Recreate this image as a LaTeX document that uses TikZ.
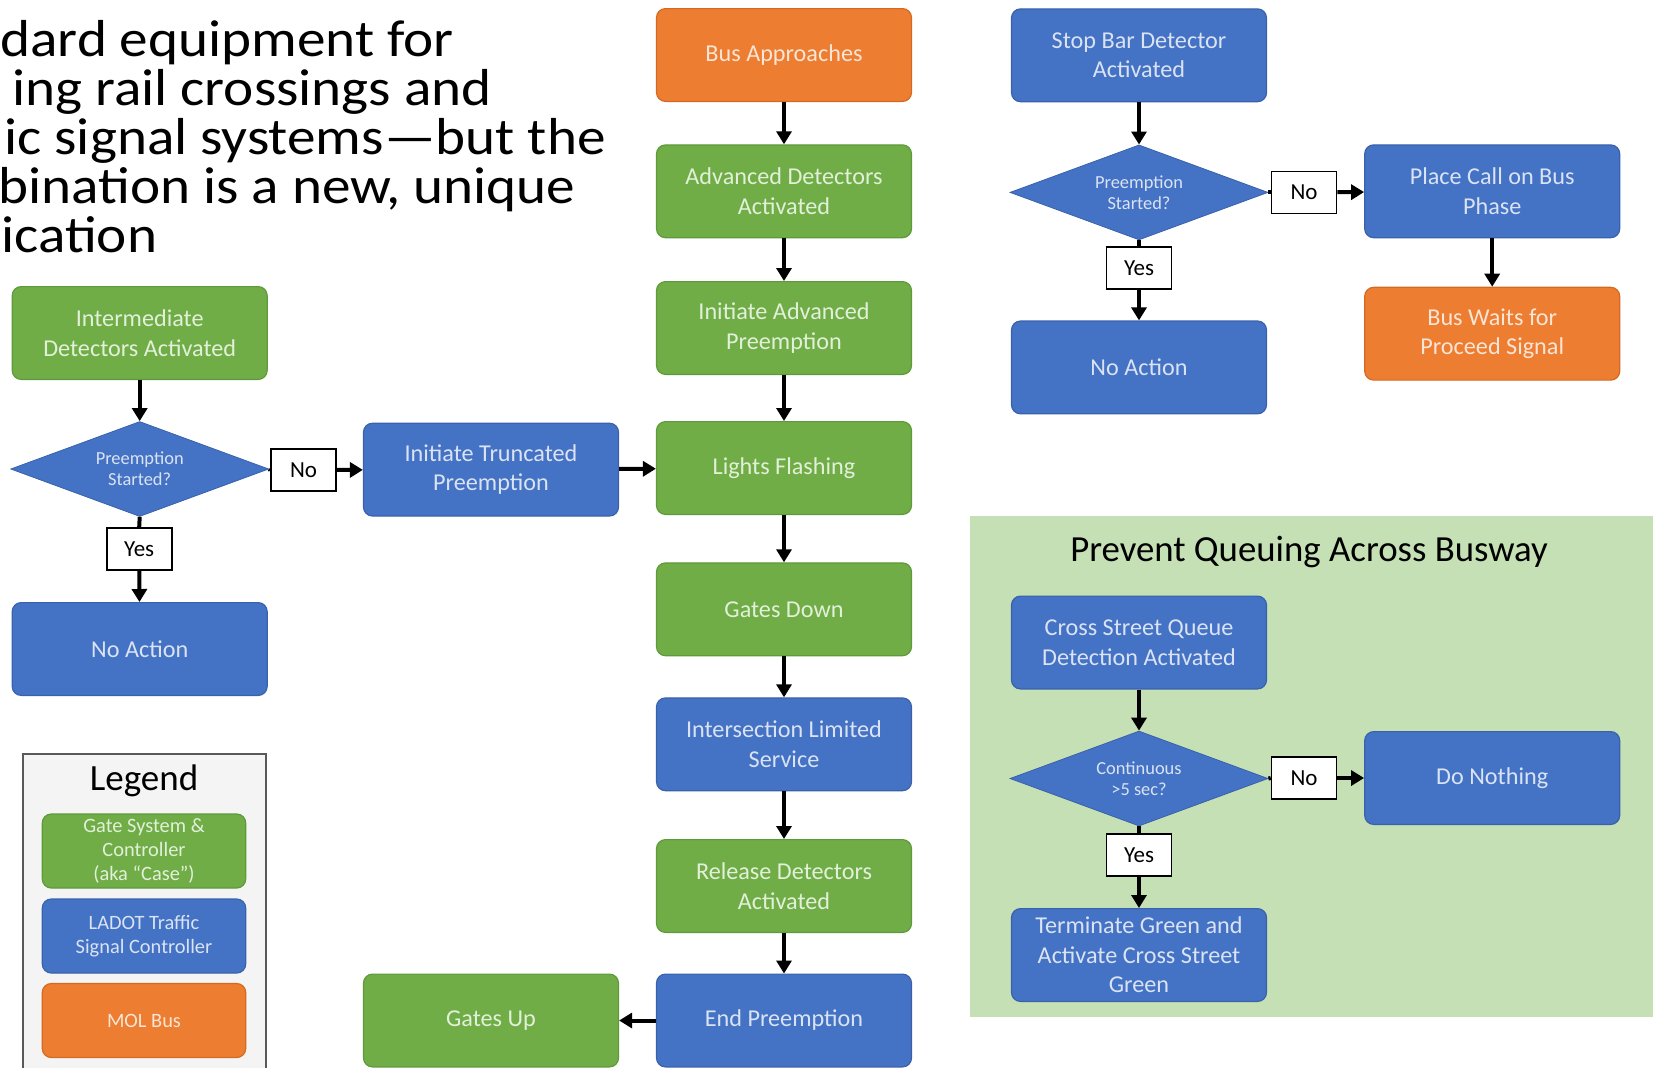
\documentclass[tikz,border=0pt]{standalone}
\usepackage{fontspec}
\setmainfont{Carlito}
\newfontfamily\headfont[FakeStretch=1.1]{Carlito}
\usetikzlibrary{shapes.geometric,arrows.meta}
\definecolor{gatefill}{HTML}{70AD47}
\definecolor{gateline}{HTML}{5E9A3A}
\definecolor{gatetext}{HTML}{E2F0D9}
\definecolor{ladotfill}{HTML}{4472C4}
\definecolor{ladotline}{HTML}{3A62AC}
\definecolor{ladottext}{HTML}{DAE3F3}
\definecolor{molfill}{HTML}{ED7D31}
\definecolor{molline}{HTML}{D46A22}
\definecolor{moltext}{HTML}{FBE5D6}
\definecolor{panelfill}{HTML}{C5E0B4}
\definecolor{legendfill}{HTML}{F4F4F4}
\definecolor{legendline}{HTML}{595959}
\tikzset{
  flow/.style={rounded corners=4.5pt, minimum width=127.5pt, minimum height=46.4pt,
    inner sep=2pt, align=center, line width=0.6pt,
    font=\fontsize{12.1pt}{14.8pt}\selectfont},
  gate/.style={flow, fill=gatefill, draw=gateline, text=gatetext},
  ladot/.style={flow, fill=ladotfill, draw=ladotline, text=ladottext},
  mol/.style={flow, fill=molfill, draw=molline, text=moltext},
  query/.style={diamond, aspect=2.7, minimum width=129pt, minimum height=47.5pt,
    inner sep=0pt, fill=ladotfill, draw=ladotline, text=ladottext, align=center,
    font=\fontsize{9.2pt}{10.5pt}\selectfont},
  answer/.style={draw=black, fill=white, line width=0.8pt, minimum width=32.5pt,
    minimum height=21pt, inner sep=0pt, font=\fontsize{11.5pt}{13pt}\selectfont},
  key/.style={rounded corners=4.5pt, minimum width=101.7pt, minimum height=37pt,
    inner sep=1pt, align=center, line width=0.6pt,
    font=\fontsize{10.2pt}{12.1pt}\selectfont},
  headline/.style={anchor=base west, inner sep=0pt, text height=18pt, text depth=5.5pt,
    font=\headfont\fontsize{26pt}{24.5pt}\selectfont},
  arrow/.style={-{Triangle[length=6.5pt,width=7.5pt]}, line width=2pt},
  link/.style={line width=2pt},
}
\begin{document}
\begin{tikzpicture}[x=0.5pt,y=-0.5pt]
\useasboundingbox (0,0) rectangle (1653,1067);
% heading text, cut at the left edge
\foreach \txt/\xs [count=\i] in {{dard equipment for}/0, {ing rail crossings and}/12,
    {ic signal systems—but the}/4, {bination is a new, unique}/-2, {ication}/1}
  \node[headline] (head\i) at (\xs,{56+49*(\i-1)}) {\txt};
% busway panel
\fill[panelfill] (970,515.5) rectangle (1653,1017.3);
\node[font=\fontsize{18.4pt}{22pt}\selectfont] (paneltitle) at (1309,552) {Prevent Queuing Across Busway};
% legend
\draw[legendline, fill=legendfill, line width=1pt] (23,754) rectangle (266,1085);
\node[font=\fontsize{18.5pt}{22pt}\selectfont] (legendtitle) at (144,781) {Legend};
\node[key, fill=gatefill, draw=gateline, text=gatetext] (keygate) at (144,851) {Gate System \&\\Controller\\(aka “Case”)};
\node[key, fill=ladotfill, draw=ladotline, text=ladottext] (keyladot) at (144,936) {LADOT Traffic\\Signal Controller};
\node[key, fill=molfill, draw=molline, text=moltext] (keymol) at (144,1020.5) {MOL Bus};

% main column
\node[mol] (busapp) at (784,55) {Bus Approaches};
\node[gate] (advdet) at (784,191.3) {Advanced Detectors\\Activated};
\node[gate] (initadv) at (784,328) {Initiate Advanced\\Preemption};
\node[gate] (lights) at (784,468) {Lights Flashing};
\node[gate] (gatesdown) at (784,609.3) {Gates Down};
\node[ladot] (limited) at (784,744.3) {Intersection Limited\\Service};
\node[gate] (reldet) at (784,886) {Release Detectors\\Activated};
\node[ladot] (endpre) at (784,1020.5) {End Preemption};
\node[gate] (gatesup) at (491,1020.5) {Gates Up};
\node[ladot] (truncated) at (491,469.6) {Initiate Truncated\\Preemption};

% intermediate detectors
\node[gate] (interdet) at (139.7,333) {Intermediate\\Detectors Activated};
\node[query] (started1) at (139.7,469) {Preemption\\Started?};
\node[answer] (no1) at (303.6,470) {No};
\node[answer] (yes1) at (139.2,549) {Yes};
\node[ladot] (noact1) at (139.7,649) {No Action};

% stop bar detector
\node[ladot] (stopbar) at (1139,55.3) {Stop Bar Detector\\Activated};
\node[query] (started2) at (1139,192.4) {Preemption\\Started?};
\node[answer] (no2) at (1304,192.4) {No};
\node[ladot] (buscall) at (1492.2,191.3) {Place Call on Bus\\Phase};
\node[mol] (buswait) at (1492.2,333.7) {Bus Waits for\\Proceed Signal};
\node[answer] (yes2) at (1139,267.8) {Yes};
\node[ladot] (noact2) at (1139,367.4) {No Action};

% cross street queue
\node[ladot] (queue) at (1139,642.5) {Cross Street Queue\\Detection Activated};
\node[query] (longer) at (1139,778.5) {Continuous\\>5 sec?};
\node[answer] (no3) at (1304,778) {No};
\node[ladot] (nothing) at (1492.2,778) {Do Nothing};
\node[answer] (yes3) at (1139,855) {Yes};
\node[ladot] (terminate) at (1139,955) {Terminate Green and\\Activate Cross Street\\Green};

% connectors
\draw[arrow] (busapp) -- (advdet);
\draw[arrow] (advdet) -- (initadv);
\draw[arrow] (initadv) -- (lights);
\draw[arrow] (lights) -- (gatesdown);
\draw[arrow] (gatesdown) -- (limited);
\draw[arrow] (limited) -- (reldet);
\draw[arrow] (reldet) -- (endpre);
\draw[arrow] (endpre) -- (gatesup);
\draw[arrow] (truncated) -- (lights);
\draw[arrow] (interdet) -- (started1);
\draw[link] (started1.east) -- (no1.west);
\draw[arrow] (no1) -- (truncated);
\draw[link] (started1.south) -- (yes1.north);
\draw[arrow] (yes1) -- (noact1);
\draw[arrow] (stopbar) -- (started2);
\draw[link] (started2.east) -- (no2.west);
\draw[arrow] (no2) -- (buscall);
\draw[arrow] (buscall) -- (buswait);
\draw[link] (started2.south) -- (yes2.north);
\draw[arrow] (yes2) -- (noact2);
\draw[arrow] (queue) -- (longer);
\draw[link] (longer.east) -- (no3.west);
\draw[arrow] (no3) -- (nothing);
\draw[link] (longer.south) -- (yes3.north);
\draw[arrow] (yes3) -- (terminate);
\end{tikzpicture}
\end{document}
